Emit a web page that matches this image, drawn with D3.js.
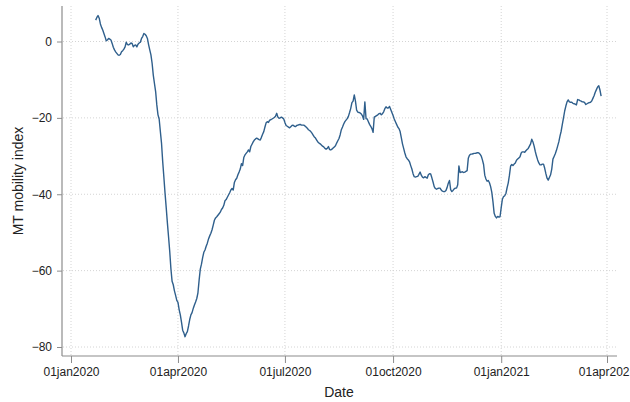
<!DOCTYPE html>
<html>
<head>
<meta charset="utf-8">
<script src="https://cdn.jsdelivr.net/npm/d3@7"></script>
<style>
  html, body { margin: 0; padding: 0; background: #fff; }
  svg { display: block; font-family: "Liberation Sans", Arial, sans-serif; }
</style>
</head>
<body>
<svg id="chart" width="630" height="402"></svg>
<script>
// Daily MT mobility index, first observation on 22 Jan 2020
const startDate = "2020-01-22";
const mobility = [
  5.6, 6.3, 6.8, 6.1, 4.6, 3.7, 3.0, 2.1, 1.2, 0.2,
  0.4, 0.8, 0.6, 0.4, -0.5, -1.5, -2.2, -2.7, -3.1, -3.5,
  -3.6, -3.4, -2.7, -2.4, -2.0, -1.4, -0.2, -0.8, -0.9, -0.7,
  -0.4, -0.5, -1.4, -1.0, -0.9, -1.4, -0.7, -0.4, -0.2, 0.8,
  1.3, 2.1, 1.9, 1.5, 0.8, -0.8, -2.2, -3.5, -5.7, -8.8,
  -11.0, -13.1, -16.6, -19.2, -20.3, -23.5, -26.6, -31.4, -35.5, -39.7,
  -43.5, -47.5, -51.2, -55.0, -59.5, -62.8, -63.7, -65.3, -66.5, -67.8,
  -68.3, -70.2, -71.6, -73.5, -75.6, -76.3, -77.3, -76.5, -76.0, -74.5,
  -72.8, -71.6, -71.0, -69.9, -69.0, -68.2, -67.3, -65.8, -62.5, -59.6,
  -58.3, -56.6, -55.2, -54.6, -53.6, -52.8, -51.7, -50.9, -50.2, -49.3,
  -48.1, -46.8, -46.2, -45.9, -45.5, -45.1, -44.7, -44.0, -43.6, -42.9,
  -41.7, -41.4, -40.8, -40.2, -39.6, -38.9, -38.5, -38.9, -36.9, -36.2,
  -35.8, -34.9, -34.2, -33.4, -32.0, -32.5, -30.4, -29.7, -29.3, -28.9,
  -28.4, -28.9, -27.5, -26.9, -26.3, -25.8, -25.5, -25.3, -25.5, -25.7,
  -25.8, -25.1, -24.3, -23.6, -22.4, -21.3, -21.0, -21.2, -20.6, -20.5,
  -20.3, -20.1, -19.9, -19.6, -18.8, -19.8, -20.1, -20.0, -19.8, -20.0,
  -20.3, -21.2, -22.0, -22.2, -22.4, -22.6, -22.3, -22.0, -21.9, -22.2,
  -22.3, -22.0, -21.9, -21.8, -21.7, -21.9, -21.9, -21.9, -22.1, -22.4,
  -22.7, -23.1, -23.3, -23.6, -24.0, -24.5, -25.0, -25.3, -25.8, -26.3,
  -26.6, -26.8, -27.1, -27.4, -27.6, -28.0, -28.2, -28.0, -27.5, -28.3,
  -28.4, -28.2, -27.9, -27.6, -27.3, -26.6, -26.0, -25.4, -24.4, -23.1,
  -22.4, -21.6, -21.0, -20.6, -20.2, -19.6, -18.6, -17.5, -16.0, -15.6,
  -14.0, -15.6, -18.0, -18.5, -18.6, -18.7, -19.0, -19.5, -20.4, -15.8,
  -20.2, -20.3, -21.0, -21.7, -22.2, -22.8, -23.8, -19.8, -19.6, -19.4,
  -19.2, -18.9, -18.8, -19.2, -18.9, -18.4, -17.6, -17.1, -17.4, -17.4,
  -17.0, -17.8, -18.6, -19.4, -20.3, -21.0, -21.7, -22.4, -22.8, -23.6,
  -25.2, -26.8, -28.0, -29.2, -30.2, -30.7, -31.0, -31.5, -32.5, -33.4,
  -34.6, -35.4, -35.5, -35.4, -35.3, -34.8, -34.2, -35.0, -35.5, -35.7,
  -35.4, -35.6, -35.8, -34.9, -34.6, -34.7, -35.7, -36.8, -38.0, -38.5,
  -38.7, -38.5, -38.4, -38.4, -38.9, -39.2, -39.3, -39.3, -39.0, -38.2,
  -37.1, -36.4, -38.8, -39.3, -39.0, -38.6, -38.4, -38.4, -37.5, -32.6,
  -34.3, -34.2, -34.1, -34.3, -34.2, -34.0, -33.8, -30.6, -29.8, -29.5,
  -29.5, -29.4, -29.3, -29.3, -29.2, -29.1, -29.2, -29.5, -30.0, -31.0,
  -32.2, -35.0, -36.0, -36.6, -36.4, -37.0, -38.0, -39.5, -42.0, -45.0,
  -45.8, -46.2, -45.8, -46.0, -45.9, -43.5, -41.3, -40.6, -40.4, -39.8,
  -38.3, -37.0, -35.0, -32.6, -32.2, -32.5, -32.1, -31.8, -31.1, -30.8,
  -30.5, -30.2, -29.2, -28.9, -28.9, -29.0, -28.6, -28.3, -28.0, -27.4,
  -26.8, -25.6, -26.3, -27.4, -28.8, -30.0, -31.0, -31.8, -32.3, -32.3,
  -32.1, -32.1, -33.2, -34.6, -35.8, -36.3, -35.6, -34.9, -33.4, -30.8,
  -30.1, -29.4, -28.5, -27.4, -26.3, -24.8, -23.5, -21.7, -20.0, -18.2,
  -16.9, -15.8, -15.3, -15.8, -15.9, -15.9, -16.2, -16.3, -16.4, -16.6,
  -15.2, -15.3, -15.5, -15.6, -15.8, -15.8, -16.0, -16.5, -16.3, -16.1,
  -16.0, -15.9, -15.6, -14.9, -14.2, -13.3, -12.6, -11.9, -11.6, -12.7,
  -14.3
];

// Axis ticks
const xTickDates = ["2020-01-01", "2020-04-01", "2020-07-01", "2020-10-01", "2021-01-01", "2021-04-01"];
const yTicks = [-80, -60, -40, -20, 0];

const parse = d3.utcParse("%Y-%m-%d");
const fmt = d3.utcFormat("%d%b%Y");
const t0 = parse(startDate);
const series = mobility.map((v, i) => ({ date: d3.utcDay.offset(t0, i), value: v }));
const xTicks = xTickDates.map(parse);

const svg = d3.select("#chart");

// Plot region: axes run a little beyond the outermost ticks
const plot = { left: 62, right: 617, top: 6, bottom: 356 };

const x = d3.scaleUtc()
  .domain([xTicks[0], xTicks[xTicks.length - 1]])
  .range([71, 607]);
const y = d3.scaleLinear()
  .domain([-80, 0])
  .range([347, 41.5]);

const axisColor = "#8c8c8c";
const gridColor = "#d4d4d4";

// Dotted grid
const grid = svg.append("g");
grid.selectAll("line.h").data(yTicks).join("line")
  .attr("x1", plot.left + 1).attr("x2", plot.right)
  .attr("y1", d => y(d)).attr("y2", d => y(d))
  .attr("stroke", gridColor).attr("stroke-width", 1)
  .attr("stroke-dasharray", "1,2");
grid.selectAll("line.v").data(xTicks).join("line")
  .attr("x1", d => x(d)).attr("x2", d => x(d))
  .attr("y1", plot.top).attr("y2", plot.bottom - 1)
  .attr("stroke", gridColor).attr("stroke-width", 1)
  .attr("stroke-dasharray", "1,2");

// Y axis
const yAxis = svg.append("g")
  .attr("transform", `translate(${plot.left},0)`)
  .call(d3.axisLeft(y).tickValues(yTicks).tickSize(5).tickPadding(5).tickFormat(d3.format("d")));
yAxis.select(".domain").remove();
yAxis.selectAll(".tick line").attr("stroke", axisColor);
yAxis.selectAll(".tick text")
  .attr("fill", "#222").style("font-size", "12px")
  .style("font-family", "'Liberation Sans', Arial, sans-serif");
svg.append("line")
  .attr("x1", plot.left).attr("x2", plot.left)
  .attr("y1", plot.top).attr("y2", plot.bottom)
  .attr("stroke", axisColor).attr("stroke-width", 1.2);

// X axis
const xAxis = svg.append("g")
  .attr("transform", `translate(0,${plot.bottom})`)
  .call(d3.axisBottom(x).tickValues(xTicks).tickSize(7).tickPadding(4)
    .tickFormat(d => fmt(d).toLowerCase()));
xAxis.select(".domain").remove();
xAxis.selectAll(".tick line").attr("stroke", axisColor);
xAxis.selectAll(".tick text")
  .attr("fill", "#222").style("font-size", "12px")
  .style("font-family", "'Liberation Sans', Arial, sans-serif");
svg.append("line")
  .attr("x1", plot.left).attr("x2", plot.right)
  .attr("y1", plot.bottom).attr("y2", plot.bottom)
  .attr("stroke", axisColor).attr("stroke-width", 1.2);

// Series line
svg.append("path")
  .datum(series)
  .attr("fill", "none")
  .attr("stroke", "#2f5f8c")
  .attr("stroke-width", 1.4)
  .attr("stroke-linejoin", "round")
  .attr("d", d3.line().x(d => x(d.date)).y(d => y(d.value)));

// Axis titles
svg.append("text")
  .attr("x", 339).attr("y", 397)
  .attr("text-anchor", "middle")
  .attr("fill", "#222").style("font-size", "14px")
  .text("Date");
svg.append("text")
  .attr("transform", "translate(23,181) rotate(-90)")
  .attr("text-anchor", "middle")
  .attr("fill", "#222").style("font-size", "14px")
  .text("MT mobility index");
</script>
</body>
</html>
